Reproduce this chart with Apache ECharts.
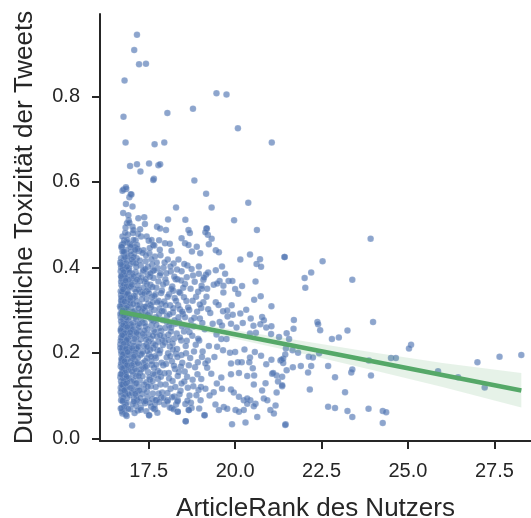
<!DOCTYPE html>
<html>
<head>
<meta charset="utf-8">
<script src="https://cdn.jsdelivr.net/npm/echarts@6.0.0/dist/echarts.min.js"></script>
<style>
  html, body { margin: 0; padding: 0; background: #fff; }
  #chart { width: 531px; height: 518px; }
</style>
</head>
<body>
<div id="chart"></div>
<script>
// tick labels
var xTicks = [17.5, 20.0, 22.5, 25.0, 27.5];
var yTicks = [0.0, 0.2, 0.4, 0.6, 0.8];

// fitted regression line (ends)
var fitX = [16.67, 28.28];
var fitY = [0.296, 0.112];

// confidence band
var bandX = [16.67, 17.5, 18.5, 20.0, 22.0, 24.0, 26.0, 28.28];
var bandLow = [0.283, 0.274, 0.259, 0.233, 0.197, 0.159, 0.120, 0.072];
var bandHigh = [0.309, 0.292, 0.275, 0.253, 0.227, 0.201, 0.176, 0.153];

// users: [ArticleRank, mean toxicity]
var densePoints = [
  [16.72,0.452],[16.85,0.441],[16.78,0.430],[16.70,0.421],[16.88,0.415],[16.75,0.405],[16.82,0.398],[16.69,0.391],[16.79,0.386],[16.87,0.378],
  [16.73,0.372],[16.84,0.365],[16.71,0.358],[16.80,0.352],[16.89,0.347],[16.76,0.341],[16.70,0.335],[16.83,0.330],[16.74,0.324],[16.86,0.318],
  [16.71,0.312],[16.79,0.306],[16.88,0.301],[16.73,0.295],[16.82,0.289],[16.69,0.283],[16.77,0.278],[16.85,0.272],[16.72,0.266],[16.80,0.261],
  [16.89,0.255],[16.70,0.249],[16.76,0.243],[16.84,0.238],[16.73,0.232],[16.81,0.226],[16.68,0.220],[16.87,0.215],[16.75,0.209],[16.83,0.203],
  [16.71,0.197],[16.79,0.191],[16.88,0.186],[16.74,0.180],[16.82,0.174],[16.69,0.168],[16.77,0.162],[16.86,0.157],[16.72,0.151],[16.80,0.145],
  [16.89,0.139],[16.70,0.133],[16.78,0.127],[16.85,0.121],[16.73,0.115],[16.81,0.108],[16.71,0.100],[16.87,0.094],[16.76,0.086],[16.83,0.079],
  [16.72,0.071],[16.80,0.065],[16.74,0.058],[16.86,0.052],[16.77,0.418],[16.70,0.399],[16.86,0.392],[16.74,0.354],[16.81,0.339],[16.69,0.304],
  [16.87,0.287],[16.75,0.259],[16.70,0.236],[16.84,0.225],[16.78,0.199],[16.72,0.183],[16.85,0.170],[16.76,0.140],[16.69,0.118],[16.82,0.103],
  [16.75,0.314],[16.88,0.327],[16.71,0.376],[16.83,0.410],
  [16.95,0.455],[17.10,0.447],[17.22,0.438],[16.98,0.428],[17.15,0.421],[17.05,0.412],[17.27,0.404],[16.93,0.397],[17.12,0.389],[17.20,0.381],
  [17.01,0.374],[16.96,0.362],[17.18,0.357],[17.08,0.349],[17.26,0.342],[16.92,0.336],[17.04,0.327],[17.14,0.321],[17.24,0.313],[16.99,0.306],
  [17.09,0.298],[17.19,0.292],[16.94,0.284],[17.28,0.279],[17.06,0.271],[17.16,0.265],[16.97,0.257],[17.23,0.251],[17.02,0.244],[17.13,0.236],
  [16.91,0.229],[17.21,0.222],[17.07,0.216],[17.17,0.208],[16.95,0.201],[17.26,0.195],[17.03,0.187],[17.11,0.180],[17.22,0.172],[16.98,0.166],
  [17.15,0.158],[17.05,0.149],[16.92,0.141],[17.24,0.135],[17.10,0.127],[17.00,0.118],[17.18,0.110],[16.94,0.101],[17.07,0.093],[17.20,0.086],
  [17.13,0.076],[16.97,0.068],[17.27,0.072],[17.02,0.030],[17.08,0.432],[16.93,0.371],[17.25,0.368],[17.11,0.331],[16.96,0.316],[17.29,0.296],
  [17.00,0.262],[17.19,0.243],[16.94,0.212],[17.09,0.194],[17.27,0.161],[16.99,0.133],[17.16,0.089],
  [17.35,0.440],[17.52,0.432],[17.68,0.425],[17.41,0.414],[17.60,0.406],[17.76,0.398],[17.33,0.390],[17.47,0.383],[17.64,0.375],[17.38,0.366],
  [17.55,0.359],[17.72,0.352],[17.44,0.344],[17.31,0.337],[17.59,0.330],[17.78,0.322],[17.49,0.315],[17.36,0.307],[17.66,0.300],[17.53,0.293],
  [17.42,0.285],[17.74,0.278],[17.32,0.271],[17.58,0.264],[17.47,0.255],[17.69,0.248],[17.37,0.240],[17.56,0.233],[17.78,0.226],[17.44,0.219],
  [17.63,0.211],[17.33,0.203],[17.51,0.196],[17.71,0.188],[17.40,0.180],[17.59,0.172],[17.34,0.163],[17.48,0.155],[17.67,0.148],[17.77,0.139],
  [17.43,0.131],[17.56,0.122],[17.36,0.114],[17.62,0.105],[17.46,0.097],[17.73,0.090],[17.39,0.082],[17.57,0.074],[17.68,0.068],[17.51,0.054],
  [17.62,0.392],[17.45,0.361],[17.70,0.337],[17.55,0.312],[17.39,0.297],[17.64,0.274],[17.50,0.242],[17.75,0.206],[17.45,0.187],[17.65,0.165],
  [17.32,0.145],[17.53,0.137],
  [17.84,0.428],[18.05,0.418],[18.22,0.409],[17.93,0.399],[18.14,0.390],[17.82,0.381],[18.28,0.372],[18.01,0.364],[18.18,0.355],[17.88,0.346],
  [18.09,0.337],[18.25,0.328],[17.95,0.320],[18.12,0.311],[17.81,0.303],[18.20,0.294],[18.03,0.286],[17.90,0.277],[18.27,0.268],[18.15,0.259],
  [17.86,0.251],[18.07,0.242],[18.23,0.233],[17.97,0.224],[18.11,0.215],[17.83,0.206],[18.29,0.198],[18.02,0.189],[18.17,0.180],[17.92,0.171],
  [18.26,0.162],[18.08,0.153],[17.85,0.144],[18.19,0.134],[17.99,0.126],[18.13,0.116],[17.89,0.107],[18.24,0.098],[18.05,0.089],[17.95,0.079],
  [18.16,0.071],[18.04,0.086],[17.98,0.372],[18.21,0.345],[17.87,0.315],[18.10,0.263],[17.94,0.238],[18.19,0.222],[18.06,0.199],
  [18.36,0.418],[18.62,0.404],[18.45,0.391],[18.78,0.381],[18.33,0.372],[18.55,0.361],[18.71,0.350],[18.41,0.340],[18.87,0.331],[18.59,0.321],
  [18.35,0.311],[18.67,0.300],[18.49,0.291],[18.82,0.282],[18.38,0.271],[18.63,0.261],[18.52,0.250],[18.76,0.240],[18.44,0.229],[18.86,0.219],
  [18.32,0.209],[18.58,0.199],[18.70,0.188],[18.47,0.177],[18.84,0.166],[18.37,0.155],[18.61,0.144],[18.53,0.133],[18.79,0.122],[18.42,0.111],
  [18.68,0.100],[18.34,0.089],[18.56,0.080],[18.74,0.071],[18.57,0.040],[18.34,0.062],[18.66,0.066],[18.50,0.352],[18.40,0.302],[18.73,0.276],
  [18.60,0.228],[18.45,0.195],
  [18.95,0.402],[19.22,0.388],[19.08,0.371],[19.38,0.359],[18.93,0.343],[19.17,0.331],[19.44,0.318],[19.02,0.305],[19.28,0.293],[18.98,0.280],
  [19.35,0.268],[19.12,0.255],[19.46,0.243],[18.96,0.229],[19.24,0.216],[19.06,0.203],[19.40,0.190],[18.92,0.178],[19.19,0.165],[19.31,0.151],
  [19.02,0.139],[19.47,0.128],[18.94,0.113],[19.26,0.100],[19.00,0.089],[19.12,0.054],[19.43,0.079],
  [19.08,0.318],[19.22,0.302],[19.52,0.312],[19.65,0.297],[19.78,0.285],[19.55,0.272],[19.88,0.268],[20.15,0.292],[20.32,0.301],[20.45,0.280]
];

// second pass over the crowded block left of 19.1
var crowdPoints = [
  [16.71,0.447],[16.80,0.436],[16.90,0.426],[16.68,0.412],[16.76,0.403],[16.91,0.395],[16.73,0.383],[16.84,0.374],[16.70,0.366],[16.78,0.360],
  [16.92,0.352],[16.69,0.344],[16.86,0.336],[16.77,0.326],[16.72,0.318],[16.90,0.310],[16.81,0.297],[16.68,0.291],[16.75,0.285],[16.91,0.276],
  [16.79,0.269],[16.70,0.257],[16.87,0.247],[16.78,0.240],[16.69,0.228],[16.91,0.222],[16.74,0.214],[16.82,0.207],[16.70,0.204],[16.90,0.194],
  [16.76,0.188],[16.85,0.178],[16.70,0.175],[16.79,0.166],[16.92,0.160],[16.74,0.155],[16.83,0.148],[16.68,0.143],[16.88,0.131],[16.75,0.123],
  [16.82,0.115],[16.69,0.108],[16.90,0.104],[16.77,0.096],[16.70,0.089],[16.86,0.083],[16.79,0.074],[16.91,0.069],[16.73,0.062],[16.84,0.055],
  [16.79,0.463],[16.88,0.458],[16.74,0.472],[16.83,0.493],[16.92,0.510],[16.76,0.527],[16.90,0.476],
  [16.73,0.343],[16.85,0.282],[16.78,0.252],[16.71,0.292],[16.89,0.234],[16.81,0.381],[16.74,0.396],[16.86,0.356],[16.70,0.322],[16.84,0.263],
  [17.00,0.452],[17.18,0.443],[17.32,0.434],[17.06,0.424],[17.24,0.416],[16.97,0.408],[17.14,0.401],[17.35,0.393],[17.03,0.385],[17.29,0.376],
  [17.11,0.367],[16.98,0.355],[17.21,0.348],[17.37,0.339],[17.07,0.333],[17.30,0.325],[16.96,0.322],[17.17,0.311],[17.33,0.303],[17.04,0.296],
  [17.25,0.287],[17.13,0.279],[17.38,0.270],[16.99,0.267],[17.21,0.259],[17.09,0.250],[17.33,0.244],[16.97,0.239],[17.26,0.231],[17.05,0.224],
  [17.36,0.216],[17.15,0.210],[17.00,0.205],[17.30,0.198],[17.19,0.189],[17.07,0.174],[17.34,0.177],[16.98,0.181],[17.25,0.153],[17.13,0.146],
  [17.37,0.126],[17.02,0.156],[17.21,0.121],[17.08,0.113],[17.31,0.104],[16.96,0.118],[17.14,0.099],[17.26,0.094],[17.04,0.080],[17.36,0.086],
  [17.18,0.065],[17.09,0.059],[17.12,0.463],[17.28,0.472],[17.03,0.495],[17.19,0.478],
  [17.42,0.428],[17.58,0.419],[17.73,0.411],[17.48,0.401],[17.66,0.393],[17.84,0.386],[17.54,0.378],[17.41,0.372],[17.78,0.367],[17.61,0.354],
  [17.49,0.348],[17.86,0.340],[17.66,0.333],[17.43,0.326],[17.75,0.318],[17.57,0.306],[17.88,0.298],[17.47,0.289],[17.70,0.283],[17.59,0.276],
  [17.41,0.262],[17.82,0.258],[17.65,0.252],[17.50,0.227],[17.74,0.238],[17.89,0.230],[17.42,0.231],[17.62,0.222],[17.55,0.208],[17.81,0.199],
  [17.46,0.204],[17.68,0.192],[17.58,0.180],[17.87,0.177],[17.44,0.169],[17.76,0.158],[17.63,0.151],[17.52,0.143],[17.84,0.126],[17.70,0.120],
  [17.45,0.109],[17.60,0.092],[17.79,0.105],[17.53,0.083],[17.86,0.096],[17.67,0.078],[17.43,0.063],[17.75,0.060],[17.50,0.462],[17.66,0.451],
  [17.80,0.463],
  [17.96,0.411],[18.13,0.402],[18.32,0.395],[18.01,0.386],[18.24,0.378],[18.44,0.369],[17.92,0.360],[18.16,0.349],[18.38,0.342],[18.05,0.331],
  [18.29,0.322],[17.99,0.311],[18.21,0.304],[18.47,0.296],[18.10,0.290],[17.93,0.297],[18.36,0.283],[18.02,0.272],[18.25,0.276],[18.46,0.262],
  [18.14,0.250],[17.98,0.258],[18.31,0.245],[18.07,0.230],[18.40,0.236],[18.20,0.208],[17.91,0.218],[18.33,0.190],[18.12,0.192],[18.00,0.174],
  [18.43,0.168],[18.23,0.170],[18.09,0.140],[18.34,0.146],[17.96,0.152],[18.27,0.120],[18.04,0.106],[18.45,0.128],[18.18,0.096],[17.93,0.094],
  [18.39,0.103],[18.11,0.072],[18.29,0.079],
  [18.53,0.408],[18.74,0.396],[18.95,0.385],[18.60,0.377],[18.83,0.366],[19.03,0.357],[18.52,0.330],[18.77,0.322],[18.98,0.313],[18.64,0.306],
  [18.90,0.296],[18.55,0.283],[18.80,0.262],[19.05,0.270],[18.68,0.248],[18.93,0.233],[18.57,0.216],[18.81,0.203],[19.04,0.190],[18.66,0.171],
  [18.91,0.150],[18.54,0.156],[18.77,0.137],[19.01,0.120],[18.63,0.118],[18.88,0.101],[18.72,0.083],[18.96,0.070]
];

// third pass: the solid core near the left edge
var corePoints = [
  [16.74,0.437],[16.81,0.424],[16.69,0.407],[16.87,0.401],[16.77,0.389],[16.70,0.379],[16.83,0.369],[16.76,0.348],[16.89,0.339],[16.71,0.329],
  [16.80,0.320],[16.67,0.309],[16.85,0.305],[16.74,0.299],[16.90,0.292],[16.78,0.286],[16.70,0.274],[16.83,0.268],[16.76,0.264],[16.88,0.260],
  [16.69,0.253],[16.81,0.246],[16.73,0.241],[16.86,0.230],[16.77,0.221],[16.68,0.212],[16.84,0.210],[16.75,0.196],[16.89,0.202],[16.71,0.186],
  [16.80,0.180],[16.87,0.171],[16.73,0.164],[16.81,0.154],[16.69,0.150],[16.86,0.144],[16.77,0.134],[16.72,0.126],[16.84,0.128],[16.79,0.112],
  [17.01,0.418],[17.13,0.409],[16.95,0.388],[17.06,0.379],[17.16,0.371],[17.01,0.359],[17.13,0.343],[16.97,0.329],[17.05,0.314],[17.21,0.304],
  [17.01,0.289],[17.12,0.284],[17.23,0.268],[17.04,0.255],[17.15,0.247],[16.96,0.248],[17.09,0.232],[17.20,0.214],[17.02,0.211],[17.12,0.201],
  [17.06,0.191],[17.18,0.176],[17.01,0.171],[17.10,0.162],[17.21,0.146],[17.06,0.136],[17.14,0.129],[17.01,0.106],[17.23,0.112],[17.11,0.104],
  [17.40,0.396],[17.55,0.386],[17.35,0.352],[17.51,0.339],[17.62,0.318],[17.41,0.308],[17.54,0.282],[17.38,0.252],[17.62,0.240],[17.46,0.214],
  [17.57,0.191],[17.40,0.167],[17.61,0.134],[17.47,0.121],[17.72,0.265],[17.80,0.290],[17.69,0.218],[17.83,0.241],[17.71,0.172],[17.82,0.154]
];

var sparsePoints = [
  [17.16,0.944],[17.08,0.908],[17.22,0.875],[17.42,0.876],[16.80,0.837],[19.46,0.807],[19.75,0.804],[18.78,0.771],[18.04,0.761],[16.77,0.752],
  [20.08,0.725],[21.06,0.692],[16.83,0.692],[17.67,0.688],[17.95,0.692],[16.96,0.637],[17.16,0.641],[17.51,0.643],[17.78,0.639],[17.83,0.641],
  [17.26,0.624],[17.65,0.607],[18.82,0.603],[19.16,0.572],[16.74,0.579],[16.85,0.583],[17.00,0.570],[16.94,0.564],[17.63,0.604],
  [16.77,0.582],[16.84,0.587],[16.98,0.571],[16.84,0.548],[17.03,0.542],[18.29,0.540],[16.91,0.522],[16.87,0.503],[16.94,0.504],[17.20,0.515],
  [17.37,0.517],[17.39,0.501],[18.06,0.512],[18.56,0.511],[17.06,0.487],[17.25,0.489],[17.04,0.480],[16.82,0.481],[16.87,0.464],[16.77,0.456],
  [17.74,0.495],[17.83,0.491],[18.00,0.487],[18.65,0.487],[18.69,0.480],[19.17,0.491],[19.21,0.476],[17.44,0.472],[17.58,0.464],[17.63,0.452],
  [17.53,0.445],[18.45,0.468],[18.55,0.456],[17.06,0.464],[17.16,0.452],[16.97,0.448],[16.72,0.448],[16.77,0.437],[16.98,0.437],[17.11,0.441],
  [17.97,0.456],[18.11,0.455],[18.16,0.439],[17.82,0.441],[18.65,0.452],[18.75,0.437],[18.99,0.433],[18.89,0.448],
  [19.32,0.540],[20.38,0.551],[19.97,0.510],[20.63,0.487],[19.18,0.491],[19.14,0.482],[19.32,0.467],[19.24,0.454],[19.44,0.440],[19.53,0.435],
  [20.43,0.430],[20.15,0.418],[20.72,0.419],[21.43,0.424],[20.62,0.408],[20.75,0.401],[19.62,0.402],[19.44,0.393],[19.71,0.385],[19.16,0.383],
  [19.10,0.376],[19.81,0.368],[19.92,0.368],[19.55,0.368],[19.48,0.362],[20.59,0.367],[20.20,0.356],[19.66,0.357],[20.00,0.349],[20.09,0.338],
  [19.66,0.341],[20.74,0.332],[20.55,0.324],[21.05,0.309],[19.19,0.350],[19.03,0.350],
  [20.78,0.284],[20.83,0.276],[20.22,0.270],[20.53,0.263],[20.73,0.267],[20.90,0.259],[20.04,0.259],[19.93,0.289],[19.90,0.311],[19.77,0.299],
  [19.62,0.264],[21.04,0.244],[21.27,0.237],[20.43,0.245],[20.60,0.247],[19.75,0.232],[19.60,0.232],[19.48,0.214],[21.66,0.206],[21.47,0.210],
  [19.65,0.206],[19.85,0.200],[20.00,0.202],[20.27,0.208],[20.57,0.202],[20.75,0.193],[20.90,0.173],[21.05,0.184],[21.31,0.182],[20.43,0.189],
  [20.19,0.178],[20.41,0.178],[20.51,0.164],[19.88,0.175],[20.08,0.178],[19.21,0.182],[19.14,0.175],[19.60,0.142],[19.88,0.150],[20.11,0.153],
  [20.35,0.146],[20.55,0.147],[21.07,0.151],[21.20,0.147],[20.54,0.126],[20.78,0.112],[21.24,0.133],[21.36,0.122],[21.20,0.107],[20.88,0.129],
  [19.14,0.116],[19.38,0.108],[19.62,0.116],[19.88,0.114],[19.96,0.107],[20.11,0.097],[20.25,0.089],[20.44,0.089],[20.35,0.093],[20.83,0.093],
  [20.93,0.089],[20.59,0.081],[20.54,0.075],[21.17,0.077],[19.67,0.073],[19.77,0.069],[19.53,0.066],[20.01,0.066],[20.11,0.062],[20.25,0.066],
  [20.35,0.081],[21.02,0.066],[21.12,0.058],[19.11,0.054],[19.91,0.033],[20.30,0.037],[20.64,0.050],[21.46,0.033],[21.05,0.262],[21.34,0.184],
  [21.10,0.153],
  [17.51,0.054],[18.57,0.040],[18.34,0.062],[18.66,0.066],[16.69,0.070],[17.27,0.067],[17.64,0.070],[18.22,0.068],[16.74,0.088],[17.07,0.086],
  [17.41,0.087],[17.70,0.089],[17.80,0.085],[18.33,0.086],[18.62,0.088],
  [23.92,0.467],[21.43,0.424],[22.53,0.414],[22.20,0.388],[22.01,0.375],[23.39,0.371],[22.03,0.352],[21.70,0.277],[22.38,0.272],[22.40,0.267],
  [23.99,0.272],[21.69,0.256],[22.46,0.253],[23.25,0.252],[21.49,0.246],[22.80,0.232],[23.00,0.236],[21.56,0.232],[25.09,0.219],[25.03,0.210],
  [21.82,0.200],[22.43,0.199],[22.13,0.191],[22.25,0.189],[24.51,0.188],[24.65,0.188],[28.28,0.195],[27.65,0.191],[27.01,0.178],[23.87,0.182],
  [25.87,0.157],[26.45,0.143],[27.22,0.119],[21.67,0.166],[21.90,0.169],[22.20,0.169],[22.69,0.169],[21.49,0.159],[22.11,0.154],[23.36,0.154],
  [23.39,0.161],[23.93,0.147],[22.89,0.143],[22.16,0.114],[23.18,0.108],[22.69,0.074],[22.89,0.071],[23.25,0.064],[23.39,0.050],[23.86,0.069],
  [24.27,0.064],[24.37,0.061],[24.27,0.036],[21.45,0.031],[21.36,0.124],[21.36,0.144],[21.39,0.176],[21.39,0.186],[21.45,0.196]
];

var points = densePoints.concat(crowdPoints, corePoints, sparsePoints);

var chart = echarts.init(document.getElementById('chart'));
var axisColor = '#262626';
var fontFamily = '"Liberation Sans", Arial, sans-serif';

var option = {
    animation: false,
    backgroundColor: '#ffffff',
    grid: {left: 100, right: 0, top: 14, bottom: 77, outerBoundsMode: 'none'},
    xAxis: {
        type: 'value',
        min: 16.09,
        max: 28.56,
        name: 'ArticleRank des Nutzers',
        nameLocation: 'middle',
        nameGap: 55,
        nameTextStyle: {fontSize: 26, color: axisColor, fontFamily: fontFamily},
        axisLine: {show: true, onZero: false, lineStyle: {color: axisColor, width: 2}},
        axisTick: {show: true, length: 8, customValues: xTicks, lineStyle: {color: axisColor, width: 2}},
        axisLabel: {
            customValues: xTicks, margin: 20, fontSize: 20, color: axisColor, fontFamily: fontFamily,
            formatter: function (v) { return v.toFixed(1); }
        },
        splitLine: {show: false}
    },
    yAxis: {
        type: 'value',
        min: -0.0063,
        max: 0.9925,
        name: 'Durchschnittliche Toxizität der Tweets',
        nameLocation: 'middle',
        nameGap: 62,
        nameTextStyle: {fontSize: 26, color: axisColor, fontFamily: fontFamily},
        axisLine: {show: true, onZero: false, lineStyle: {color: axisColor, width: 2}},
        axisTick: {show: true, length: 8, customValues: yTicks, lineStyle: {color: axisColor, width: 2}},
        axisLabel: {
            customValues: yTicks, margin: 20, fontSize: 20, color: axisColor, fontFamily: fontFamily,
            formatter: function (v) { return v.toFixed(1); }
        },
        splitLine: {show: false}
    },
    series: [
        {
            name: 'Nutzer',
            type: 'scatter',
            symbolSize: 6.5,
            itemStyle: {
                color: 'rgba(76,114,176,0.8)',
                borderColor: 'rgba(255,255,255,0.3)',
                borderWidth: 0.5
            },
            data: points,
            z: 2
        },
        {
            name: 'Konfidenzband',
            type: 'custom',
            renderItem: function (params, api) {
                var pts = [];
                for (var i = 0; i < bandX.length; i++) {
                    pts.push(api.coord([bandX[i], bandHigh[i]]));
                }
                for (var j = bandX.length - 1; j >= 0; j--) {
                    pts.push(api.coord([bandX[j], bandLow[j]]));
                }
                return {
                    type: 'polygon',
                    shape: {points: pts},
                    style: {fill: 'rgba(85,168,104,0.15)'}
                };
            },
            data: [[bandX[0], bandLow[0]]],
            silent: true,
            z: 3
        },
        {
            name: 'Regression',
            type: 'line',
            data: [[fitX[0], fitY[0]], [fitX[1], fitY[1]]],
            symbol: 'none',
            lineStyle: {color: '#55a868', width: 4.5},
            z: 4
        }
    ]
};
chart.setOption(option, true);
</script>
</body>
</html>
